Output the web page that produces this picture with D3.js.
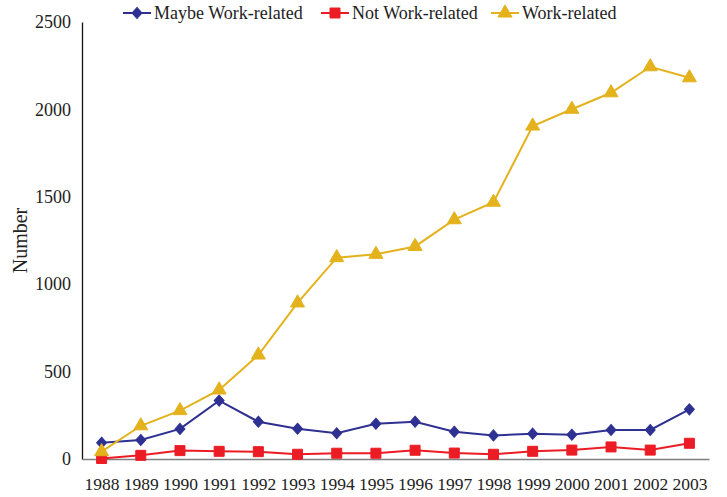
<!DOCTYPE html>
<html>
<head>
<meta charset="utf-8">
<script src="https://cdn.jsdelivr.net/npm/d3@7"></script>
<style>
	body { margin: 0; background: #fff; }
	text { font-family: "Liberation Serif", "Times New Roman", serif; fill: #222; }
</style>
</head>
<body>
<div id="chart"></div>
<script>
/* DATA */

const years = [1988, 1989, 1990, 1991, 1992, 1993, 1994, 1995, 1996, 1997, 1998, 1999, 2000, 2001, 2002, 2003];
const maybeWork = [93, 109, 172, 334, 213, 173, 147, 202, 213, 156, 135, 145, 139, 166, 166, 284];
const notWork = [3, 21, 48, 44, 42, 27, 33, 33, 50, 34, 27, 44, 51, 69, 51, 90];
const work = [42, 190, 277, 395, 595, 893, 1152, 1171, 1216, 1369, 1469, 1905, 2001, 2095, 2244, 2181];
const yTicks = [0, 500, 1000, 1500, 2000, 2500];

const series = [
	{ name: "Maybe Work-related", values: maybeWork, color: "#2e3192", shape: "diamond" },
	{ name: "Not Work-related", values: notWork, color: "#ec1c24", shape: "square" },
	{ name: "Work-related", values: work, color: "#e3b21c", shape: "triangle" },
];

/* SET UP */

const w = 727;
const h = 497;
const m = { top: 22, right: 18, bottom: 38, left: 82 };

const svg = d3
	.select("#chart")
	.append("svg")
	.attr("width", w)
	.attr("height", h);

const x = d3
	.scalePoint()
	.domain(years)
	.range([m.left, w - m.right])
	.padding(0.5);

const y = d3
	.scaleLinear()
	.domain([0, 2500])
	.range([h - m.bottom, m.top]);

// marker shapes
const symbols = {
	diamond: d3.symbol().type(d3.symbolDiamond2).size(62),
	square: d3.symbol().type(d3.symbolSquare).size(100),
	triangle: d3.symbol().type(d3.symbolTriangle).size(85),
};

function drawMarker(g, shape, color) {
	g.append("path")
		.attr("d", symbols[shape]())
		.attr("fill", color)
		.attr("stroke", color)
		.attr("stroke-width", 1)
		.attr("transform", shape == "diamond" ? "scale(1,1.12)" : null);
}

/* AXES */

// y labels, no tick marks
const yAxis = svg
	.append("g")
	.attr("transform", `translate(${m.left},0)`)
	.call(d3.axisLeft(y).tickValues(yTicks).tickFormat(d3.format("d")).tickSize(0).tickPadding(11));
yAxis.select(".domain").attr("stroke", "#111").attr("stroke-width", 1.3);
yAxis.selectAll("text").attr("font-size", 18).attr("font-family", "Liberation Serif");

// x axis line + year labels
const xAxis = svg
	.append("g")
	.attr("transform", `translate(0,${h - m.bottom})`)
	.call(d3.axisBottom(x).tickSize(0).tickPadding(19).tickSizeOuter(0));
xAxis.select(".domain").attr("stroke", "#7f7f7f").attr("stroke-width", 1.5);
xAxis.selectAll("text").attr("font-size", 17.5).attr("font-family", "Liberation Serif");

svg.append("text")
	.attr("transform", `translate(22,${(m.top + h - m.bottom) / 2}) rotate(-90)`)
	.attr("text-anchor", "middle")
	.attr("dominant-baseline", "middle")
	.attr("font-size", 20)
	.text("Number");

/* LINES */

const line = d3
	.line()
	.x((d, i) => x(years[i]))
	.y((d) => y(d));

series.forEach((s) => {
	svg.append("path")
		.datum(s.values)
		.attr("fill", "none")
		.attr("stroke", s.color)
		.attr("stroke-width", 2)
		.attr("d", line);
});

series.forEach((s) => {
	s.values.forEach((v, i) => {
		const g = svg.append("g").attr("transform", `translate(${x(years[i])},${y(v)})`);
		drawMarker(g, s.shape, s.color);
	});
});

/* LEGEND */

const legendX = [123, 321, 491];
const legend = svg
	.selectAll(".legend")
	.data(series)
	.join("g")
	.attr("class", "legend")
	.attr("transform", (d, i) => `translate(${legendX[i]},13)`);

legend.append("line")
	.attr("x1", 0)
	.attr("x2", 28)
	.attr("stroke", (d) => d.color)
	.attr("stroke-width", 2);

legend.each(function (d) {
	const g = d3.select(this).append("g").attr("transform", "translate(14,0)");
	drawMarker(g, d.shape, d.color);
});

legend.append("text")
	.attr("x", 31)
	.attr("dy", "0.35em")
	.attr("font-size", 18)
	.text((d) => d.name);
</script>
</body>
</html>
